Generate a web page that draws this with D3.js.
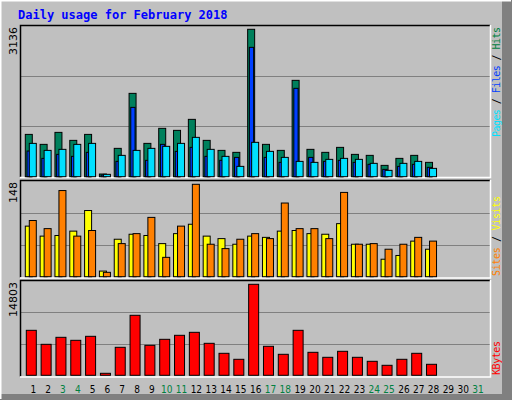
<!DOCTYPE html>
<html>
<head>
<meta charset="utf-8">
<script src="https://cdn.jsdelivr.net/npm/d3@7"></script>
<style>
  body { margin: 0; background: #fff; }
  svg { display: block; }
</style>
</head>
<body>
<svg id="chart" width="512" height="400"></svg>
<script>
// Daily usage, February 2018
const days = d3.range(1, 32)
const weekendDays = [3, 4, 10, 11, 17, 18, 24, 25, 31]
const hits = [900, 688, 943, 773, 900, 57, 603, 1773, 709, 1029, 986, 1220, 773, 560, 518, 3136, 688, 560, 2050, 582, 518, 624, 475, 454, 241, 390, 454, 305]
const files = [546, 390, 475, 433, 518, 35, 326, 1475, 348, 688, 539, 624, 433, 348, 411, 2752, 411, 305, 1880, 411, 326, 348, 305, 263, 156, 220, 263, 199]
const pages = [709, 560, 582, 688, 709, 50, 454, 560, 603, 646, 709, 837, 582, 433, 220, 731, 539, 411, 326, 305, 369, 390, 369, 284, 135, 284, 326, 177]
const sites = [81, 65, 66, 73, 106, 9, 60, 68, 66, 53, 69, 84, 65, 61, 52, 65, 63, 73, 74, 69, 68, 85, 52, 52, 28, 34, 57, 44]
const visits = [90, 77, 138, 65, 74, 7, 53, 69, 95, 31, 81, 148, 52, 45, 60, 69, 61, 118, 77, 77, 61, 135, 52, 53, 44, 52, 63, 57]
const kbytes = [7317, 5041, 6179, 5691, 6341, 325, 4553, 9760, 4878, 5854, 6505, 6992, 5203, 3577, 2602, 14803, 4716, 3415, 7317, 3740, 2927, 3903, 2927, 2276, 1626, 2602, 3577, 1789]

const svg = d3.select('#chart')
const mono = 'DejaVu Sans Mono, monospace'

// frame
svg.append('rect').attr('width', 512).attr('height', 400).attr('fill', '#c0c0c0')
svg.append('rect').attr('x', 502).attr('y', 0).attr('width', 10).attr('height', 400).attr('fill', '#808080')
svg.append('rect').attr('x', 0).attr('y', 394).attr('width', 512).attr('height', 6).attr('fill', '#808080')
svg.append('path').attr('d', 'M0.5,399V0.5H511').attr('fill', 'none').attr('stroke', '#fff').attr('stroke-width', 2)

svg.append('text')
  .attr('x', 18).attr('y', 19)
  .attr('font-family', mono).attr('font-weight', 'bold').attr('font-size', 12)
  .attr('fill', '#0000ff')
  .text('Daily usage for February 2018')

const x = d3.scaleLinear().domain([1, 31]).range([33.3, 478])

const panels = [
  { top: 25, bottom: 177, max: 3136, topY: 29.3, baseY: 176.7 },
  { top: 180, bottom: 277.5, max: 148, topY: 184.3, baseY: 276.7 },
  { top: 280, bottom: 376.5, max: 14803, topY: 284.3, baseY: 375.3 }
]

panels.forEach(p => {
  p.y = d3.scaleLinear().domain([0, p.max]).range([p.baseY, p.topY])
  svg.append('rect')
    .attr('x', 20).attr('y', p.top).attr('width', 470).attr('height', p.bottom - p.top)
    .attr('fill', '#c0c0c0')
  const h = p.bottom - p.top
  ;[1 / 3, 2 / 3].forEach(f => {
    svg.append('line')
      .attr('x1', 20).attr('x2', 490)
      .attr('y1', Math.round(p.top + h * f) + 0.5).attr('y2', Math.round(p.top + h * f) + 0.5)
      .attr('stroke', '#808080')
  })
  svg.append('path')
    .attr('d', `M20.5,${p.bottom}V${p.top + 0.5}H490`)
    .attr('fill', 'none').attr('stroke', '#000').attr('stroke-width', 1.5)
  svg.append('path')
    .attr('d', `M20,${p.bottom + 0.5}H490.5V${p.top}`)
    .attr('fill', 'none').attr('stroke', '#fff').attr('stroke-width', 1.5)
  svg.append('text')
    .attr('transform', `translate(17,${p.top + 2}) rotate(-90)`)
    .attr('text-anchor', 'end')
    .attr('font-family', 'DejaVu Sans, sans-serif').attr('font-size', 11)
    .attr('fill', '#000')
    .text(p.max)
})

/**
 * Draws one series of bars in a panel
 */
function drawBars (panel, values, x0, x1, color) {
  svg.append('g')
    .selectAll('rect')
    .data(values)
    .enter()
    .append('rect')
    .attr('x', (d, i) => x(i + 1) + x0)
    .attr('y', d => panel.y(d))
    .attr('width', x1 - x0)
    .attr('height', d => panel.baseY - panel.y(d))
    .attr('fill', color)
    .attr('stroke', '#000')
    .attr('stroke-width', 1)
}

drawBars(panels[0], hits, -8, -1, '#00805c')
drawBars(panels[0], files, -6.3, -2, '#0040ff')
drawBars(panels[0], pages, -4, 3, '#00e0ff')
drawBars(panels[1], sites, -8, -1, '#ffff00')
drawBars(panels[1], visits, -4, 3, '#ff8000')
drawBars(panels[2], kbytes, -7, 3, '#ff0000')

// day labels
svg.append('g')
  .selectAll('text')
  .data(days)
  .enter()
  .append('text')
  .attr('x', d => x(d))
  .attr('y', 393)
  .attr('text-anchor', 'middle')
  .attr('font-family', 'DejaVu Sans Condensed, DejaVu Sans, sans-serif').attr('font-size', 10)
  .attr('fill', d => weekendDays.includes(d) ? '#008040' : '#000')
  .text(d => d)

// right-hand legends
function legend (parts, yEnd, len) {
  const t = svg.append('text')
    .attr('transform', `translate(500,${yEnd}) rotate(-90)`)
    .attr('font-family', mono).attr('font-size', 10)
    .attr('textLength', len).attr('lengthAdjust', 'spacing')
  parts.forEach(([s, c]) => t.append('tspan').attr('fill', c).text(s))
}
legend([['Pages', '#00e0ff'], [' / ', '#000'], ['Files', '#0040ff'], [' / ', '#000'], ['Hits', '#008040']], 137, 110)
legend([['Sites', '#ff8000'], [' / ', '#000'], ['Visits', '#ffff00']], 276, 80)
legend([['KBytes', '#ff0000']], 375, 34)
</script>
</body>
</html>
